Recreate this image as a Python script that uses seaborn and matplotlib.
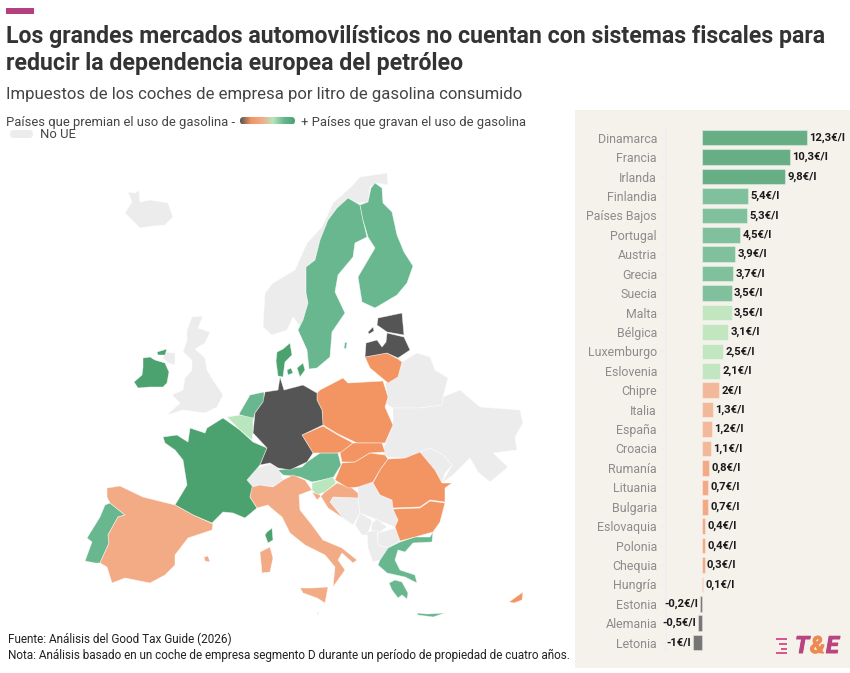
import matplotlib
matplotlib.use("Agg")
import matplotlib.pyplot as plt
import matplotlib.patches as mpatches
import matplotlib.patheffects as pe
from matplotlib.colors import LinearSegmentedColormap
import numpy as np
import pandas as pd
import seaborn as sns

# bar chart data
countries = ["Dinamarca", "Francia", "Irlanda", "Finlandia", "Países Bajos", "Portugal", "Austria",
             "Grecia", "Suecia", "Malta", "Bélgica", "Luxemburgo", "Eslovenia", "Chipre", "Italia",
             "España", "Croacia", "Rumanía", "Lituania", "Bulgaria", "Eslovaquia", "Polonia",
             "Chequia", "Hungría", "Estonia", "Alemania", "Letonia"]
values = [12.3, 10.3, 9.8, 5.4, 5.3, 4.5, 3.9, 3.7, 3.5, 3.5, 3.1, 2.5, 2.1, 2.0, 1.3, 1.2, 1.1,
          0.8, 0.7, 0.7, 0.4, 0.4, 0.3, 0.1, -0.2, -0.5, -1.0]
value_labels = ["12,3€/l", "10,3€/l", "9,8€/l", "5,4€/l", "5,3€/l", "4,5€/l", "3,9€/l", "3,7€/l",
                "3,5€/l", "3,5€/l", "3,1€/l", "2,5€/l", "2,1€/l", "2€/l", "1,3€/l", "1,2€/l",
                "1,1€/l", "0,8€/l", "0,7€/l", "0,7€/l", "0,4€/l", "0,4€/l", "0,3€/l", "0,1€/l",
                "-0,2€/l", "-0,5€/l", "-1€/l"]
# colour class of each country: hi, mid, low, peach, orange, neg
classes = ["hi", "hi", "hi", "mid", "mid", "mid", "mid", "mid", "mid", "low", "low", "low", "low",
           "peach", "peach", "peach", "peach", "orange", "orange", "orange", "orange", "orange",
           "orange", "orange", "neg", "neg", "neg"]

map_colors = {"hi": "#4ca26f", "mid": "#68b78f", "low": "#b9e6bd", "peach": "#f2ab85",
              "orange": "#f39563", "neg": "#555555", "none": "#ececec"}
bar_colors = {"hi": "#68ae85", "mid": "#80c09d", "low": "#c1e6c0", "peach": "#f2b89a",
              "orange": "#f3a985", "neg": "#757575"}

# map outlines, in picture pixels
ICELAND = [(125, 213), (132, 202), (128, 192), (135, 193), (139, 190), (140, 202), (150, 200), (168, 203),
           (173, 217), (165, 225), (153, 226), (140, 228), (130, 218)]
NORWAY = [(263, 327), (265, 293), (273, 283), (295, 270), (307, 243), (322, 227), (333, 203), (350, 188),
          (360, 177), (387, 173), (388, 185), (377, 183), (370, 187), (368, 202), (358, 203), (348, 198),
          (337, 208), (328, 220), (320, 240), (315, 260), (306, 267), (306, 293), (308, 303), (303, 320),
          (300, 326), (293, 317), (287, 330), (272, 335)]
SWEDEN = [(348, 198), (360, 205), (363, 220), (367, 237), (355, 243), (353, 257), (338, 275), (335, 292),
          (345, 313), (332, 332), (330, 357), (317, 368), (309, 369), (307, 350), (298, 330), (303, 320),
          (308, 303), (306, 293), (306, 267), (315, 260), (320, 240), (328, 220), (337, 208)]
FINLAND = [(375, 183), (382, 188), (383, 203), (392, 212), (397, 235), (404, 252), (413, 266), (407, 283),
           (397, 295), (375, 308), (362, 302), (358, 277), (375, 248), (368, 237), (363, 220), (360, 205),
           (368, 202), (371, 188)]
ESTONIA = [(378, 318), (402, 313), (404, 335), (387, 332), (377, 325)]
SAAREMAA = [(368, 332), (373, 327), (374, 331), (369, 334)]
LATVIA = [(387, 333), (404, 337), (410, 350), (398, 358), (387, 353), (365, 357), (366, 343), (377, 340),
          (382, 347), (386, 342)]
LITHUANIA = [(365, 357), (387, 353), (398, 359), (402, 362), (398, 377), (388, 383), (382, 378), (370, 368)]
BELARUS = [(402, 362), (417, 353), (430, 357), (435, 370), (448, 378), (443, 397), (442, 405), (420, 408),
           (393, 408), (385, 403), (388, 397), (385, 383), (398, 377)]
UKRAINE = [(393, 408), (420, 408), (442, 405), (443, 397), (460, 390), (480, 407), (520, 410), (523, 423),
           (515, 437), (517, 450), (493, 453), (508, 467), (490, 482), (478, 472), (470, 458), (453, 475),
           (442, 483), (452, 465), (443, 455), (430, 448), (420, 452), (405, 458), (387, 457), (382, 452),
           (393, 425)]
MOLDOVA = [(420, 452), (430, 448), (443, 455), (452, 465), (445, 473), (442, 483), (435, 470)]
POLAND = [(317, 393), (320, 390), (343, 378), (348, 383), (383, 381), (388, 397), (385, 407), (393, 425),
          (385, 443), (373, 443), (357, 443), (338, 434), (323, 425), (322, 410), (317, 400)]
GERMANY = [(280, 377), (284, 390), (303, 385), (317, 393), (317, 400), (322, 410), (323, 425), (302, 435),
           (313, 453), (307, 462), (290, 470), (278, 468), (270, 463), (260, 465), (267, 448), (253, 433),
           (255, 413), (263, 402), (265, 392), (278, 390)]
JUTLAND = [(276, 361), (277, 352), (283, 349), (290, 343), (292, 355), (285, 362), (283, 377), (278, 376)]
ZEALAND = [(297, 368), (303, 363), (305, 370), (300, 377)]
FUNEN = [(287, 370), (291, 368), (293, 373), (288, 375)]
NETHERLANDS = [(239, 414), (250, 395), (264, 392), (264, 401), (255, 413), (253, 420), (240, 415)]
BELGIUM = [(227, 417), (240, 415), (253, 418), (253, 433), (252, 440), (240, 430)]
FRANCE = [(163, 437), (177, 435), (188, 442), (190, 428), (205, 433), (207, 428), (223, 418), (240, 430),
          (253, 442), (267, 448), (260, 465), (247, 480), (253, 487), (250, 497), (257, 508), (245, 518),
          (233, 513), (223, 512), (212, 523), (193, 515), (175, 505), (187, 485), (183, 460), (175, 450),
          (165, 443)]
CORSICA = [(267, 532), (272, 528), (273, 540), (268, 543), (265, 535)]
SPAIN = [(107, 488), (120, 486), (143, 497), (175, 505), (193, 515), (213, 524), (212, 530), (188, 538),
         (175, 555), (175, 565), (165, 575), (150, 583), (125, 578), (112, 583), (107, 567), (100, 563),
         (109, 543), (108, 535), (118, 517), (125, 515), (110, 503), (107, 497)]
BALEARES = [(204, 557), (208, 556), (210, 562), (205, 561)]
PORTUGAL = [(110, 503), (125, 515), (118, 517), (108, 535), (109, 543), (100, 563), (95, 563), (85, 561),
            (92, 542), (87, 538), (100, 517), (105, 505)]
SARDINIA = [(260, 552), (270, 547), (273, 558), (270, 572), (262, 573)]
ITALY = [(252, 487), (260, 485), (273, 487), (283, 480), (293, 475), (305, 480), (312, 490), (299, 495),
         (300, 510), (312, 525), (323, 540), (342, 548), (357, 560), (353, 563), (342, 553), (338, 560),
         (345, 570), (333, 587), (335, 567), (325, 555), (305, 545), (290, 533), (282, 517), (270, 507),
         (268, 505), (257, 508), (250, 497)]
SICILY = [(300, 588), (312, 588), (328, 587), (325, 603), (317, 598), (303, 593)]
CROATIA = [(312, 492), (317, 500), (325, 492), (337, 483), (352, 488), (358, 493), (358, 498), (333, 497),
           (330, 502), (343, 518), (328, 508), (320, 495)]
SLOVENIA = [(312, 483), (333, 477), (336, 483), (325, 492), (317, 495), (312, 490)]
AUSTRIA = [(278, 470), (302, 467), (307, 462), (320, 453), (338, 453), (341, 465), (333, 478), (312, 482),
           (300, 477), (283, 475)]
SWITZERLAND = [(247, 480), (257, 468), (270, 464), (278, 468), (283, 480), (273, 487), (263, 485), (253, 487)]
CZECHIA = [(302, 435), (323, 426), (338, 435), (353, 443), (342, 452), (337, 453), (320, 453), (313, 453)]
SLOVAKIA = [(353, 443), (382, 443), (385, 452), (370, 453), (355, 462), (342, 462), (340, 453)]
HUNGARY = [(342, 463), (355, 462), (370, 453), (385, 455), (388, 459), (380, 470), (373, 482), (358, 487),
           (348, 488), (335, 480)]
ROMANIA = [(388, 459), (405, 458), (420, 452), (435, 470), (442, 483), (452, 483), (445, 488), (445, 502),
           (430, 500), (420, 507), (393, 508), (392, 500), (380, 495), (373, 483), (380, 470)]
BULGARIA = [(393, 509), (420, 508), (430, 501), (445, 503), (440, 522), (433, 532), (415, 537), (400, 541),
            (395, 527), (398, 520)]
GREECE = [(388, 548), (400, 542), (415, 537), (430, 537), (433, 532), (432, 542), (413, 543), (405, 552),
          (398, 550), (395, 560), (400, 570), (415, 575), (417, 583), (405, 577), (387, 573), (378, 565), (380, 560)]
PELOPONNESE = [(389, 583), (395, 580), (402, 582), (408, 593), (407, 599), (402, 595), (398, 598), (392, 590)]
CRETE = [(417, 613), (427, 614), (445, 613), (433, 617), (418, 615)]
CYPRUS = [(509, 602), (516, 597), (523, 592), (522, 600), (514, 603)]
MALTA = [(317, 612), (319, 613), (318, 615)]
BOSNIA = [(333, 497), (358, 498), (360, 513), (353, 525), (343, 518), (330, 502)]
SERBIA = [(358, 485), (365, 483), (373, 483), (380, 495), (392, 500), (393, 508), (398, 520), (395, 527),
          (385, 523), (375, 519), (365, 515), (360, 513), (358, 498)]
MONTENEGRO = [(355, 525), (360, 513), (372, 520), (371, 525), (367, 535), (362, 535)]
KOSOVO = [(372, 523), (377, 519), (387, 527), (378, 533), (371, 530)]
MACEDONIA = [(378, 533), (395, 528), (400, 541), (388, 548), (378, 545)]
ALBANIA = [(367, 532), (377, 530), (378, 545), (388, 548), (380, 560), (373, 562), (368, 548)]
BRITAIN = [(187, 330), (192, 317), (203, 316), (198, 328), (210, 332), (205, 343), (195, 349), (205, 358),
           (207, 370), (213, 380), (223, 395), (217, 407), (205, 413), (183, 410), (167, 415), (180, 403),
           (172, 395), (183, 390), (185, 378), (192, 370), (192, 360), (183, 352), (187, 340)]
N_IRELAND = [(165, 352), (175, 353), (175, 365), (168, 363), (163, 358)]
IRELAND = [(143, 358), (150, 357), (155, 360), (165, 363), (169, 372), (167, 383), (163, 387), (150, 387),
           (138, 388), (134, 382), (142, 375), (143, 367)]
DONEGAL = [(157, 352), (167, 349), (165, 355), (158, 355)]
GOTLAND = [(345, 342), (347, 343), (346, 349), (344, 348)]

map_shapes = [
    ("none", [ICELAND, NORWAY, BELARUS, UKRAINE, MOLDOVA, SWITZERLAND, BOSNIA, SERBIA, MONTENEGRO, KOSOVO,
              MACEDONIA, ALBANIA, BRITAIN, N_IRELAND]),
    ("hi", [JUTLAND, ZEALAND, FUNEN, FRANCE, CORSICA, IRELAND, DONEGAL]),
    ("mid", [SWEDEN, GOTLAND, FINLAND, NETHERLANDS, PORTUGAL, AUSTRIA, GREECE, PELOPONNESE, CRETE]),
    ("low", [BELGIUM, SLOVENIA, MALTA]),
    ("peach", [SPAIN, BALEARES, SARDINIA, ITALY, SICILY, CROATIA]),
    ("orange", [LITHUANIA, POLAND, CZECHIA, SLOVAKIA, HUNGARY, ROMANIA, BULGARIA, CYPRUS]),
    ("neg", [ESTONIA, SAAREMAA, LATVIA, GERMANY]),
]

sns.set_theme(style="white")
plt.rcParams["font.family"] = ["Roboto", "DejaVu Sans"]

W, H = 850, 673
fig = plt.figure(figsize=(W / 100, H / 100), dpi=100)
ax = fig.add_axes([0, 0, 1, 1])
ax.set_xlim(0, W)
ax.set_ylim(H, 0)
ax.axis("off")

# header
ax.add_patch(mpatches.Rectangle((6, 8), 28, 6, color="#b5407f", lw=0))
ax.text(6, 36, "Los grandes mercados automovilísticos no cuentan con sistemas fiscales para",
        fontsize=16.65, fontweight="bold", color="#333333", va="center")
ax.text(6, 63.5, "reducir la dependencia europea del petróleo", fontsize=16.65, fontweight="bold",
        color="#333333", va="center")
ax.text(6, 94, "Impuestos de los coches de empresa por litro de gasolina consumido", fontsize=12.06,
        color="#444444", va="center")
ax.text(6, 122.5, "Países que premian el uso de gasolina -", fontsize=9.4, color="#444444", va="center")
ax.text(301, 122.5, "+ Países que gravan el uso de gasolina", fontsize=9.4, color="#444444", va="center")

# legend: gradient pill and the grey No UE pill
legend_cmap = LinearSegmentedColormap.from_list(
    "legend", ["#555555", "#f39563", "#f2ab85", "#b9e6bd", "#68b78f", "#4ca26f"])
img = ax.imshow(np.linspace(0, 1, 200).reshape(1, -1), cmap=legend_cmap, extent=(240, 295, 124.5, 117),
                aspect="auto", zorder=2)
pill = mpatches.FancyBboxPatch((243.7, 120.7), 47.6, 0.1, boxstyle="round,pad=3.7,rounding_size=3.7",
                               lw=0, fc="none")
ax.add_patch(pill)
img.set_clip_path(pill)
ax.set_xlim(0, W)
ax.set_ylim(H, 0)
ax.add_patch(mpatches.FancyBboxPatch((14, 134), 15, 0.1, boxstyle="round,pad=3.9,rounding_size=3.9",
                                     fc="#ececec", lw=0))
ax.text(40, 134.5, "No UE", fontsize=9.4, color="#444444", va="center")

# map
for group, outlines in map_shapes:
    for outline in outlines:
        xs, ys = zip(*outline)
        ax.fill(xs, ys, fc=map_colors[group], ec=(1, 1, 1, 0.6), lw=0.5, joinstyle="round", zorder=3)

# footer
ax.text(8, 639, "Fuente: Análisis del Good Tax Guide (2026)", fontsize=8.45, color="#222222", va="center")
ax.text(8, 655, "Nota: Análisis basado en un coche de empresa segmento D durante un período de propiedad de cuatro años.",
        fontsize=8.45, color="#222222", va="center")

# beige panel behind the bars
ax.add_patch(mpatches.Rectangle((575, 110), 275, 558, color="#f5f1eb", lw=0, zorder=1))

# bars
left, top, bottom = 666, 128, 652.4
bar_ax = fig.add_axes([left / W, 1 - bottom / H, (W - left) / W, (bottom - top) / H])
bar_ax.patch.set_alpha(0)
df = pd.DataFrame({"country": countries, "value": values, "group": classes})
sns.barplot(data=df, x="value", y="country", hue="country", dodge=False, legend=False, saturation=1,
            palette=[bar_colors[c] for c in classes], width=0.8, ax=bar_ax)
for patch in bar_ax.patches:
    patch.set_edgecolor((1, 1, 1, 0.35))
    patch.set_linewidth(0.8)
px_per_unit = 8.51
bar_ax.set_xlim(-36 / px_per_unit, (W - 702) / px_per_unit)
bar_ax.set_xlabel("")
bar_ax.set_ylabel("")
bar_ax.xaxis.set_visible(False)
sns.despine(ax=bar_ax, top=True, right=True, bottom=True)
bar_ax.spines["left"].set_color("#efeff3")
bar_ax.tick_params(axis="y", left=True, length=4.3, width=0.8, color="#efeff3", labelsize=8.9,
                   labelcolor="#8c8c8c", pad=2.2)
for i, (v, label) in enumerate(zip(values, value_labels)):
    bar_ax.annotate(label, xy=(v, i), xytext=(1.6 if v >= 0 else -1.6, 0), textcoords="offset points",
                    ha="left" if v >= 0 else "right", va="center", fontsize=8.1, fontweight="bold",
                    color="#1a1a1a")

# logo
for y, x0 in zip([637.5, 642.5, 647.5, 652], [776, 779, 781, 776]):
    ax.add_patch(mpatches.Rectangle((x0, y), 787 - x0, 2.4, color="#d9568f", lw=0, zorder=4))
heavy = [pe.withStroke(linewidth=0.7)]
for x, letter, color in [(795, "T", "#b9447f"), (810, "&", "#ee8a50"), (826, "E", "#b9447f")]:
    t = ax.text(x, 646.5, letter, fontsize=17, fontweight="bold", style="italic", color=color, va="center", zorder=4)
    t.set_path_effects([pe.withStroke(linewidth=0.7, foreground=color)])

fig.savefig("out.png", dpi=100)
